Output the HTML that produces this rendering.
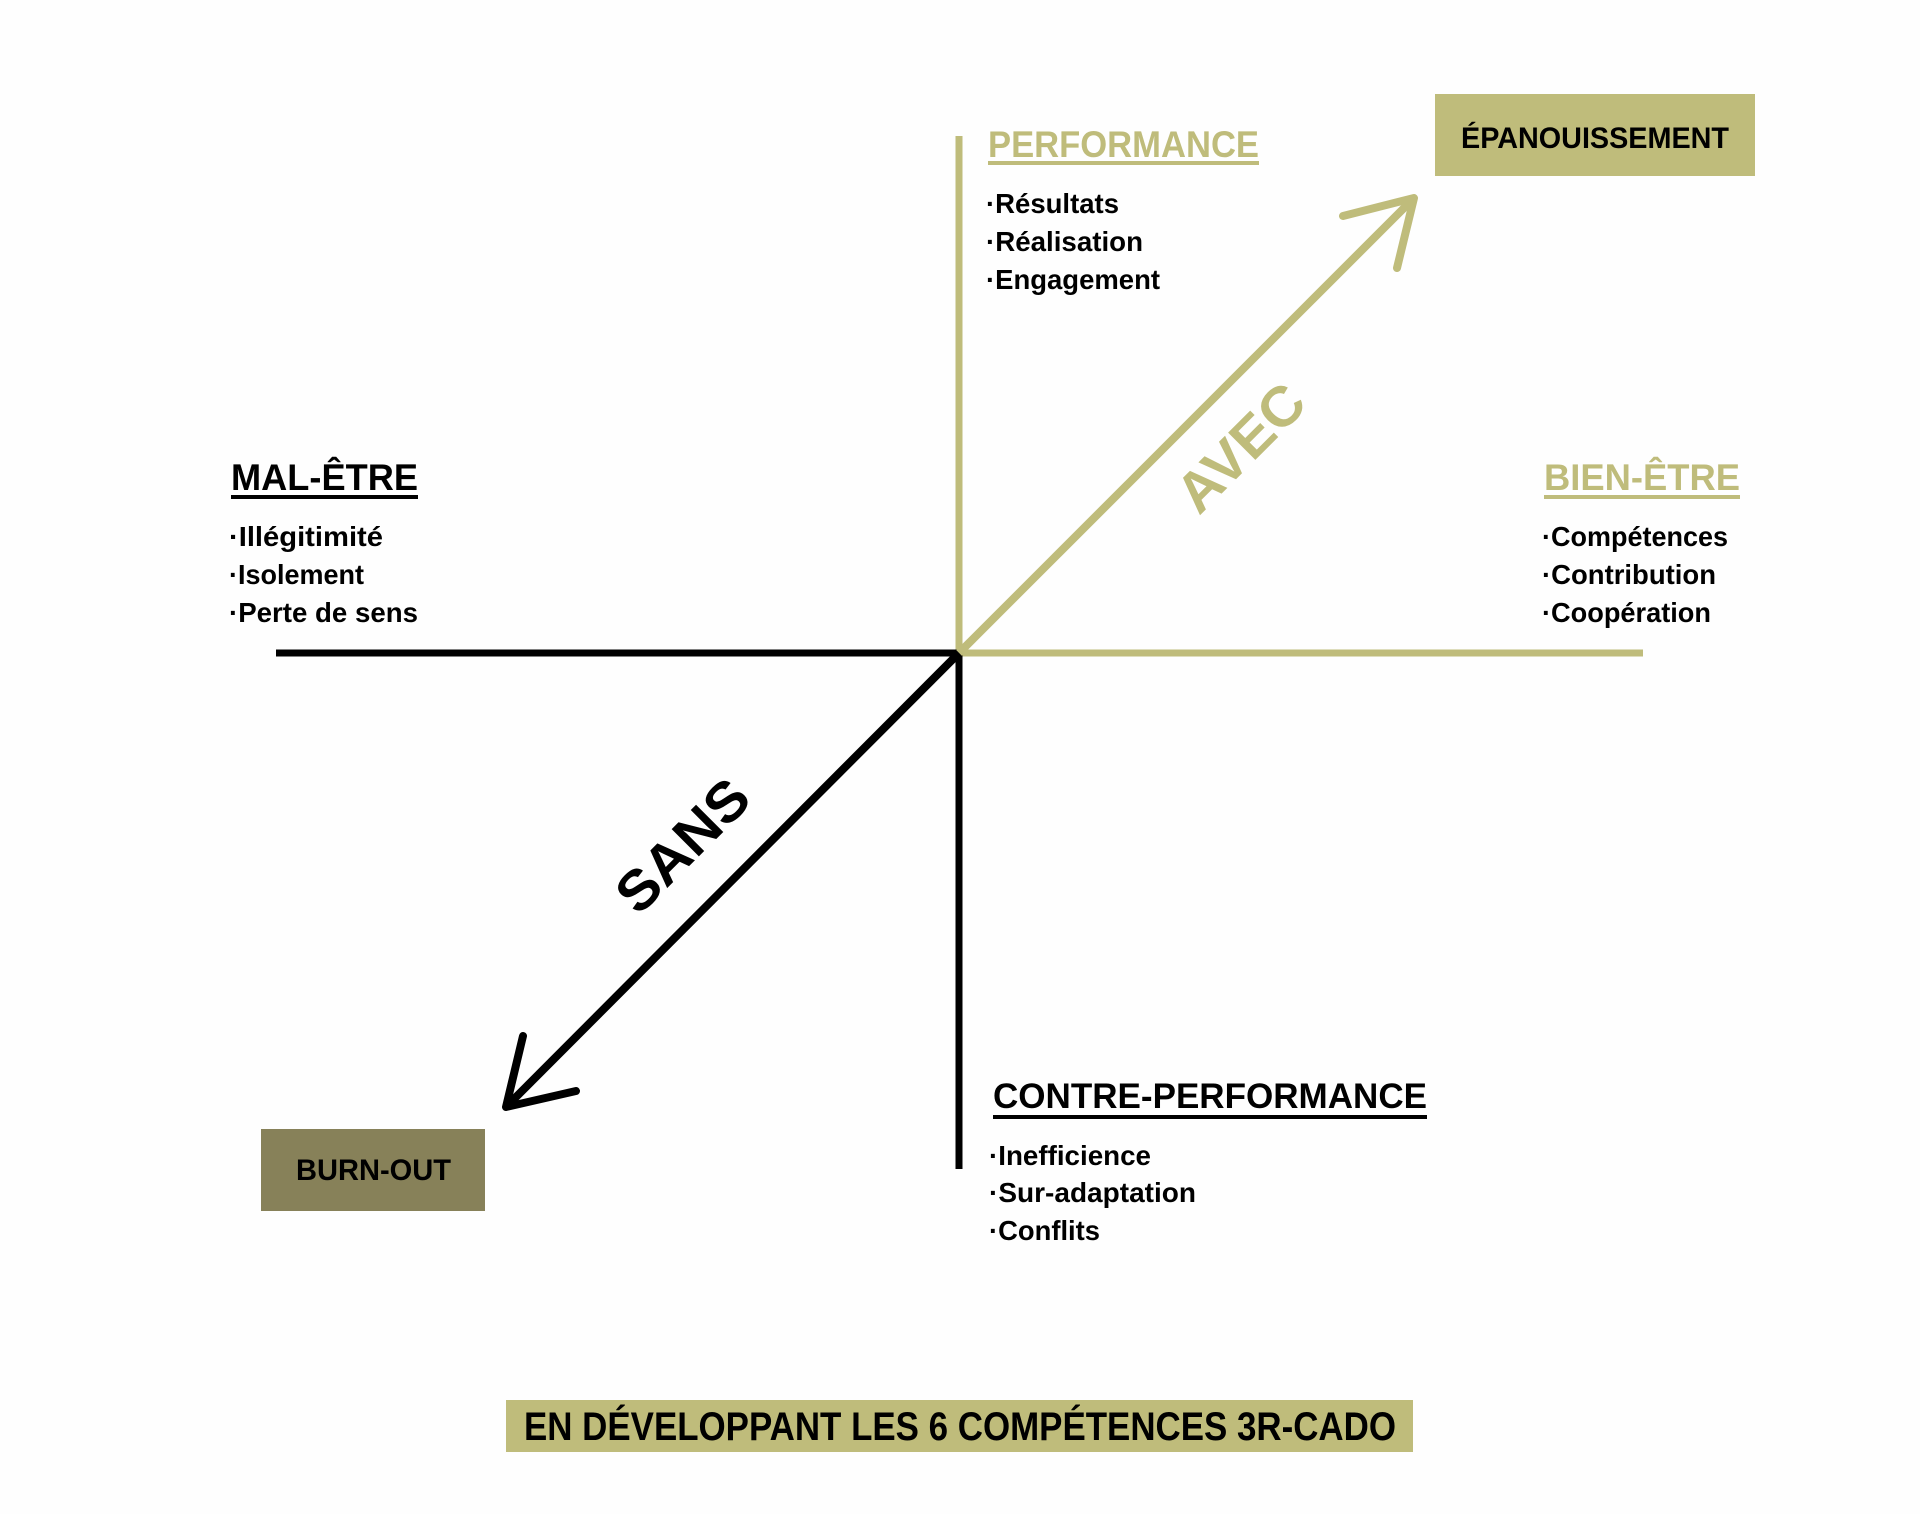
<!DOCTYPE html>
<html><head><meta charset="utf-8"><style>
html,body{margin:0;padding:0;background:#fff;}
svg{display:block;}
text{font-family:"Liberation Sans",sans-serif;font-weight:bold;}
</style></head><body>
<svg width="1920" height="1514" viewBox="0 0 1920 1514" xmlns="http://www.w3.org/2000/svg">
<rect width="1920" height="1514" fill="#fefefe"/>
<!-- axes -->
<line x1="959" y1="136" x2="959" y2="653" stroke="#bfbc7b" stroke-width="7"/>
<line x1="959" y1="653" x2="1643" y2="653" stroke="#bfbc7b" stroke-width="7"/>
<line x1="276" y1="653" x2="959" y2="653" stroke="#000" stroke-width="7"/>
<line x1="959" y1="653" x2="959" y2="1169" stroke="#000" stroke-width="7"/>
<!-- AVEC arrow -->
<line x1="959" y1="653" x2="1412" y2="200" stroke="#bfbc7b" stroke-width="8"/>
<polyline points="1343,216 1414,198 1397,268" fill="none" stroke="#bfbc7b" stroke-width="8" stroke-linecap="round" stroke-linejoin="round"/>
<!-- SANS arrow -->
<line x1="959" y1="653" x2="508" y2="1105" stroke="#000" stroke-width="8"/>
<polyline points="523,1036 506,1107 576,1091" fill="none" stroke="#000" stroke-width="8" stroke-linecap="round" stroke-linejoin="round"/>
<!-- boxes -->
<rect x="1435" y="94" width="320" height="82" fill="#bfbc7b"/>
<text x="1461" y="148" font-size="30" textLength="268" lengthAdjust="spacingAndGlyphs" fill="#000">ÉPANOUISSEMENT</text>
<rect x="261" y="1129" width="224" height="82" fill="#878159"/>
<text x="296" y="1180" font-size="30" textLength="155" lengthAdjust="spacingAndGlyphs" fill="#000">BURN-OUT</text>
<rect x="506" y="1400" width="907" height="52" fill="#bfbc7b"/>
<text x="524" y="1440" font-size="40" textLength="872" lengthAdjust="spacingAndGlyphs" fill="#000">EN DÉVELOPPANT LES 6 COMPÉTENCES 3R-CADO</text>
<!-- PERFORMANCE -->
<text x="988" y="157" font-size="37" textLength="271" lengthAdjust="spacingAndGlyphs" fill="#bfbc7b">PERFORMANCE</text>
<rect x="988" y="161" width="271" height="4" fill="#bfbc7b"/>
<text x="986" y="213" font-size="28" textLength="133" lengthAdjust="spacingAndGlyphs">·Résultats</text>
<text x="986" y="251" font-size="28" textLength="157" lengthAdjust="spacingAndGlyphs">·Réalisation</text>
<text x="986" y="289" font-size="28" textLength="174" lengthAdjust="spacingAndGlyphs">·Engagement</text>
<!-- MAL-ETRE -->
<text x="231" y="490" font-size="37" textLength="187" lengthAdjust="spacingAndGlyphs">MAL-ÊTRE</text>
<rect x="231" y="495" width="187" height="4" fill="#000"/>
<text x="229" y="546" font-size="28" textLength="154" lengthAdjust="spacingAndGlyphs">·Illégitimité</text>
<text x="229" y="584" font-size="28" textLength="135" lengthAdjust="spacingAndGlyphs">·Isolement</text>
<text x="229" y="622" font-size="28" textLength="189" lengthAdjust="spacingAndGlyphs">·Perte de sens</text>
<!-- BIEN-ETRE -->
<text x="1544" y="490" font-size="37" textLength="196" lengthAdjust="spacingAndGlyphs" fill="#bfbc7b">BIEN-ÊTRE</text>
<rect x="1544" y="495" width="196" height="4" fill="#bfbc7b"/>
<text x="1542" y="546" font-size="28" textLength="186" lengthAdjust="spacingAndGlyphs">·Compétences</text>
<text x="1542" y="584" font-size="28" textLength="174" lengthAdjust="spacingAndGlyphs">·Contribution</text>
<text x="1542" y="622" font-size="28" textLength="169" lengthAdjust="spacingAndGlyphs">·Coopération</text>
<!-- CONTRE-PERFORMANCE -->
<text x="993" y="1108" font-size="35" textLength="434" lengthAdjust="spacingAndGlyphs">CONTRE-PERFORMANCE</text>
<rect x="993" y="1115" width="434" height="4" fill="#000"/>
<text x="989" y="1165" font-size="28" textLength="162" lengthAdjust="spacingAndGlyphs">·Inefficience</text>
<text x="989" y="1202" font-size="28" textLength="207" lengthAdjust="spacingAndGlyphs">·Sur-adaptation</text>
<text x="989" y="1240" font-size="28" textLength="111" lengthAdjust="spacingAndGlyphs">·Conflits</text>
<!-- diagonal labels -->
<g transform="translate(1240,447) rotate(-45)">
<text x="0" y="20" font-size="56" text-anchor="middle" textLength="156" lengthAdjust="spacingAndGlyphs" fill="#bfbc7b">AVEC</text>
</g>
<g transform="translate(682,845) rotate(-45)">
<text x="0" y="20" font-size="56" text-anchor="middle" textLength="163" lengthAdjust="spacingAndGlyphs" fill="#000">SANS</text>
</g>
</svg>
</body></html>
